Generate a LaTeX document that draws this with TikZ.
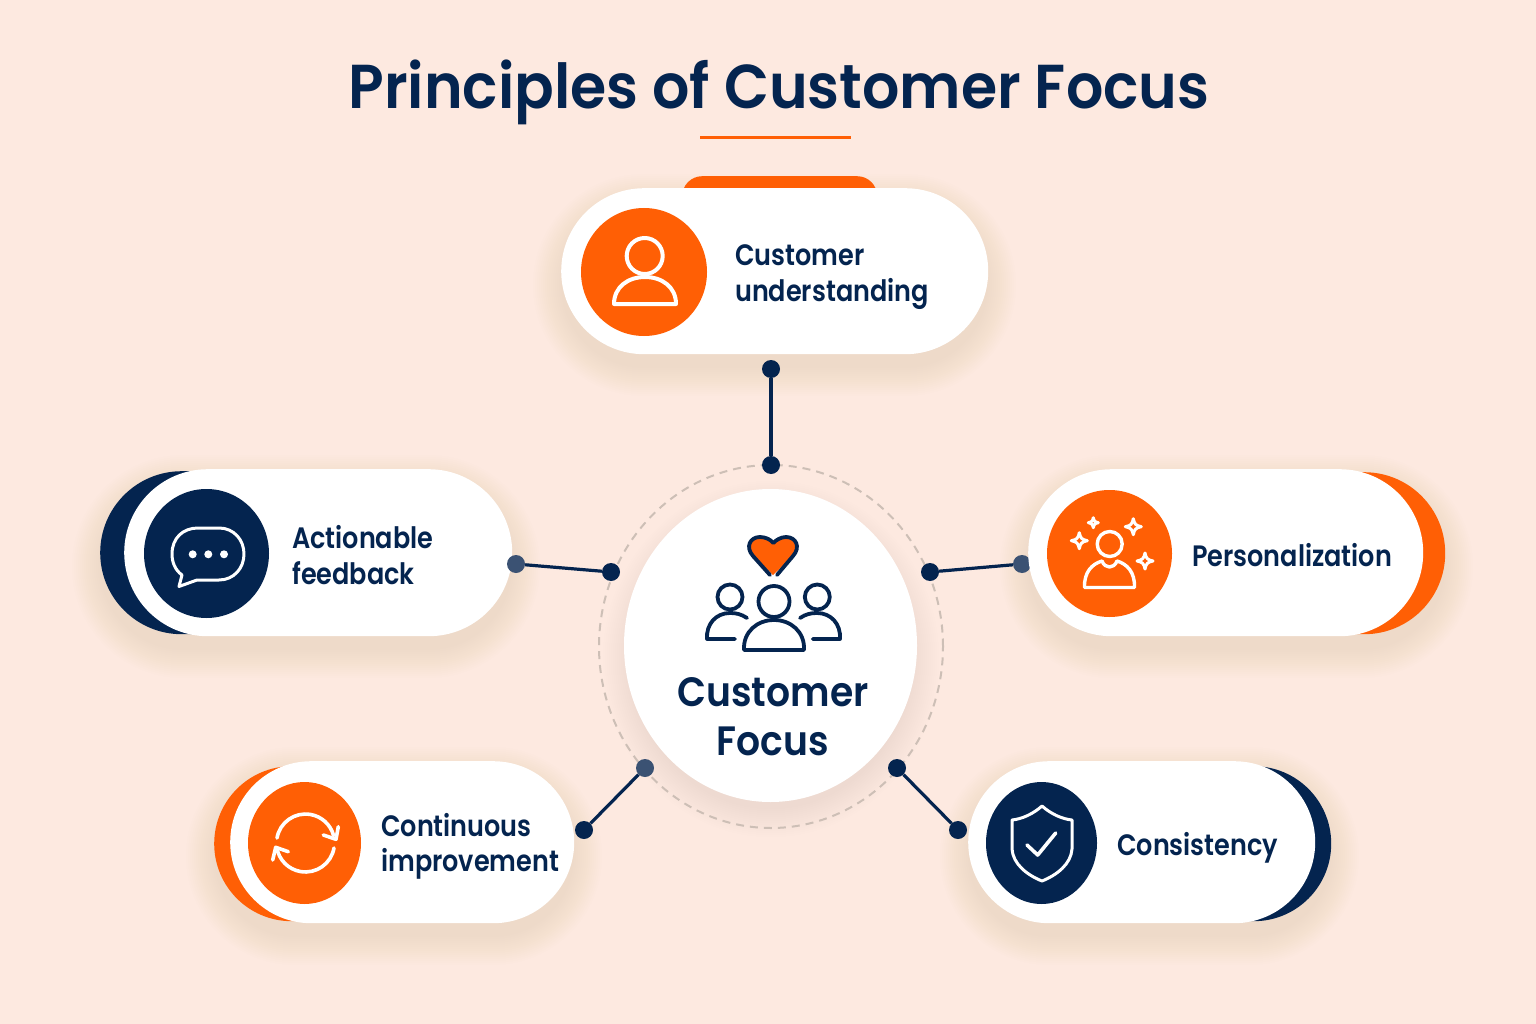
\documentclass[tikz,border=0pt]{standalone}
\usepackage{fontspec}
\setmainfont{Poppins}
\newfontfamily\labelfam{Poppins SemiBold}[FakeStretch=.865]
\newfontfamily\titlefam{Poppins SemiBold}[FakeStretch=.945]
\newfontfamily\hubfam{Poppins SemiBold}[FakeStretch=.92]
\usetikzlibrary{shapes.geometric}

\definecolor{paper}{HTML}{FDE9E0}
\definecolor{navy}{HTML}{04244F}
\definecolor{softnavy}{HTML}{3B5273}
\definecolor{tangerine}{HTML}{FF5F05}
\definecolor{shadowtone}{HTML}{D8977C}
\definecolor{ringtone}{HTML}{CDBFB6}

\newcommand{\pillshadow}[4]{
  \pgfmathsetmacro{\pillrad}{(#4-#2)/2}
  \foreach \g in {0,2,...,28}
    \fill[shadowtone,fill opacity=.0115,rounded corners=(\pillrad+\g)*1pt]
      (#1-\g,#2-\g+14) rectangle (#3+\g,#4+\g+14);
}
\newcommand{\sparkle}[3]{
  \draw[iconline,shift={(#1,#2)},scale=#3]
    (0,-1) .. controls (.15,-.3) and (.3,-.15) .. (1,0)
    .. controls (.3,.15) and (.15,.3) .. (0,1)
    .. controls (-.15,.3) and (-.3,.15) .. (-1,0)
    .. controls (-.3,-.15) and (-.15,-.3) .. (0,-1) -- cycle;
}

\begin{document}
\begin{tikzpicture}[
x=1pt, y=-1pt,
pill/.style={rectangle, draw=none, fill=white, inner sep=0pt, anchor=north west},
backnavy/.style={rectangle, draw=none, fill=navy, inner sep=0pt, anchor=north west},
backorange/.style={rectangle, draw=none, fill=tangerine, inner sep=0pt, anchor=north west},
badge/.style={ellipse, draw=none, inner sep=0pt},
dot/.style={circle, fill=navy, draw=none, inner sep=0pt, minimum size=18pt},
softdot/.style={dot, fill=softnavy},
link/.style={draw=navy, line width=3.2pt},
label/.style={font=\labelfam\fontsize{29.5}{35.5}\selectfont, text=navy, anchor=west, align=left, inner sep=0pt},
iconline/.style={draw=white, line width=3pt, line join=round, line cap=round},
navyline/.style={draw=navy, line width=3.8pt, line join=round, line cap=round}
]
\useasboundingbox (0,0) rectangle (1536,1024);
\fill[paper] (0,0) rectangle (1536,1024);

\node[font=\titlefam\fontsize{62}{70}\selectfont, text=navy, inner sep=0pt] (title) at (779,92) {Principles of Customer Focus};
\coordinate (ruleA) at (700,138);
\coordinate (ruleB) at (851,138);
\draw[draw=tangerine, line width=3pt] (ruleA) -- (ruleB);

\pillshadow{561}{188}{988}{354}
\pillshadow{100}{469}{512}{636}
\pillshadow{1028}{469}{1445}{636}
\pillshadow{214}{761}{574}{923}
\pillshadow{968}{761}{1331}{923}
\foreach \g in {0,2,...,28}
  \fill[shadowtone,fill opacity=.009] (771,659) ellipse [x radius=140+\g, y radius=150+\g];

\node[ellipse, draw=ringtone, line width=2pt, dash pattern=on 8pt off 6pt, minimum width=344pt, minimum height=363pt, inner sep=0pt] (ring) at (771,646.5) {};
\node[ellipse, fill=white, draw=none, minimum width=293pt, minimum height=313pt, inner sep=0pt] (hub) at (770.5,645.5) {};

\node[dot] (topA) at (771,369) {};
\node[dot] (topB) at (771,465) {};
\node[softdot] (rightA) at (1022,564) {};
\node[dot] (rightB) at (930,572) {};
\node[dot] (lowrightA) at (958,830) {};
\node[dot] (lowrightB) at (897,768) {};
\draw[link] (topA) -- (topB);
\draw[link] (rightA) -- (rightB);
\draw[link] (lowrightA) -- (lowrightB);

\node[backorange, rounded corners=20pt, minimum width=195pt, minimum height=40pt] (topback) at (682,176) {};
\node[backnavy, rounded corners=81.5pt, minimum width=220pt, minimum height=163pt] (leftback) at (100,471) {};
\node[backorange, rounded corners=81pt, minimum width=220pt, minimum height=162pt] (rightback) at (1225,472) {};
\node[backorange, rounded corners=77.5pt, minimum width=200pt, minimum height=155pt] (lowleftback) at (214,766) {};
\node[backnavy, rounded corners=77.5pt, minimum width=200pt, minimum height=155pt] (lowrightback) at (1131,766) {};

\node[pill, rounded corners=83pt, minimum width=427pt, minimum height=166pt] (toppill) at (561,188) {};
\node[pill, rounded corners=83.5pt, minimum width=388pt, minimum height=167pt] (leftpill) at (124,469) {};
\node[pill, rounded corners=83.5pt, minimum width=395pt, minimum height=167pt] (rightpill) at (1028,469) {};
\node[pill, rounded corners=81pt, minimum width=344pt, minimum height=162pt] (lowleftpill) at (230,761) {};
\node[pill, rounded corners=81pt, minimum width=347pt, minimum height=162pt] (lowrightpill) at (968,761) {};

\node[softdot] (leftA) at (516,564) {};
\node[dot] (leftB) at (611,572) {};
\node[dot] (lowleftA) at (584,830) {};
\node[softdot] (lowleftB) at (645,768) {};
\draw[link] (leftA) -- (leftB);
\draw[link] (lowleftA) -- (lowleftB);

\node[badge, fill=tangerine, minimum width=126pt, minimum height=128pt] (topbadge) at (644,272) {};
\node[badge, fill=navy, minimum width=125pt, minimum height=129pt] (leftbadge) at (206.5,553.5) {};
\node[badge, fill=tangerine, minimum width=125pt, minimum height=127pt] (rightbadge) at (1109.5,553.5) {};
\node[badge, fill=tangerine, minimum width=113pt, minimum height=122pt] (lowleftbadge) at (304.5,843) {};
\node[badge, fill=navy, minimum width=111pt, minimum height=122pt] (lowrightbadge) at (1041.5,843) {};

\node[label] (toptext) at (735,277) {Customer\\understanding};
\node[label] (lefttext) at (292,555) {Actionable\\feedback};
\node[label] (righttext) at (1192,555) {Personalization};
\node[label] (lowlefttext) at (381,846.5) {Continuous\\improvement};
\node[label] (lowrighttext) at (1117,848) {Consistency};

\node[font=\hubfam\fontsize{41}{49}\selectfont, text=navy, align=center, inner sep=0pt] (hubtext) at (773,717) {Customer\\Focus};

% customer understanding icon
\draw[iconline, line width=4pt] (644.7,256) circle [radius=18];
\draw[iconline, line width=4pt] (614,304) .. controls (614,287) and (628,277) .. (645,277) .. controls (662,277) and (676,287) .. (676,304) -- cycle;

% chat icon
\draw[iconline] (182,575) .. controls (175,570) and (172,562) .. (172,554) .. controls (172,538) and (183,528) .. (198,528) -- (219,528) .. controls (234,528) and (244,540) .. (244,554) .. controls (244,568) and (234,580) .. (219,580) -- (197,580) -- (179,586.5) -- cycle;
\foreach \dotx in {192.7,208.3,224}
  \fill[white] (\dotx,554.3) circle [radius=4];

% personalization icon
\draw[iconline, line width=3.4pt] (1109.7,544) circle [radius=12.5];
\draw[iconline, line width=3.4pt] (1084.5,587.5) .. controls (1084,572) and (1092,564) .. (1102,561) .. controls (1105,569) and (1114,569) .. (1117,561) .. controls (1127,564) and (1135,572) .. (1134.5,587.5) -- cycle;
\sparkle{1093.3}{522.7}{5}
\sparkle{1079.3}{540.7}{8}
\sparkle{1133.3}{526.7}{8}
\sparkle{1145}{561}{8}

% refresh icon
\draw[iconline, line width=3.6pt] (277,838) arc [start angle=190, end angle=345, radius=29];
\draw[iconline, line width=3.6pt] (334,848) arc [start angle=10, end angle=170, radius=29];
\draw[iconline, line width=3.6pt] (338.3,826.7) -- (336,839.3) -- (323.3,835);
\draw[iconline, line width=3.6pt] (272.7,860) -- (275.7,847.3) -- (288.3,851.7);

% shield icon
\draw[iconline] (1042,806) .. controls (1033,814) and (1022,819) .. (1012,820) -- (1012,849) .. controls (1013,864) and (1027,875) .. (1042,881) .. controls (1057,875) and (1071,864) .. (1072,849) -- (1072,820) .. controls (1062,819) and (1051,814) .. (1042,806) -- cycle;
\draw[iconline, line width=3.6pt] (1027,845) -- (1037.7,855) -- (1055.7,833);

% hub icon
\fill[tangerine] (773,575) -- (753,556) .. controls (745,547) and (750,537) .. (760,537) .. controls (766,537) and (771,540) .. (773.3,543) .. controls (776,540) and (781,537) .. (786,537) .. controls (796,537) and (801,547) .. (793,556) -- cycle;
\draw[navyline] (770,575) -- (753,556) .. controls (745,547) and (750,537) .. (760,537) .. controls (766,537) and (771,540) .. (773.3,543) .. controls (776,540) and (781,537) .. (786,537) .. controls (796,537) and (801,547) .. (793,556) -- (777,575);
\draw[navyline] (774,601.5) circle [radius=15.5];
\draw[navyline] (744,650) .. controls (743,632) and (757,620) .. (774,620) .. controls (791,620) and (805,632) .. (804,650) -- cycle;
\draw[navyline] (730,597) circle [radius=12.5];
\draw[navyline] (747,618) .. controls (741,614) and (736,613) .. (730,613) .. controls (716,613) and (706,624) .. (707,639) -- (735,639);
\draw[navyline] (817.3,597) circle [radius=12.5];
\draw[navyline] (800,618) .. controls (806,614) and (811,613) .. (817,613) .. controls (831,613) and (841,624) .. (840,639) -- (812.7,639);
\end{tikzpicture}
\end{document}
